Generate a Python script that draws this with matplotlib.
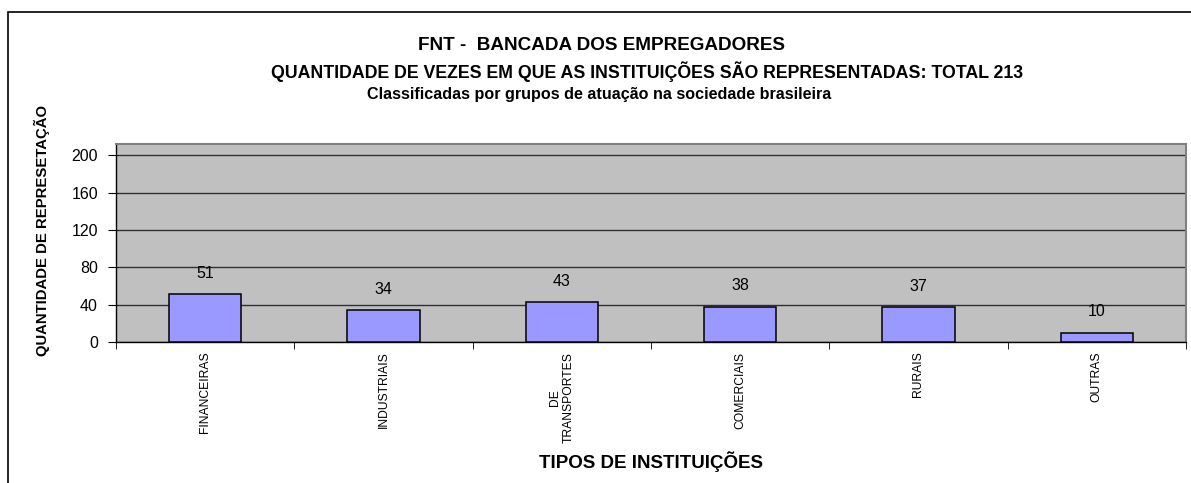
import matplotlib.pyplot as plt
from matplotlib.patches import Rectangle

# data
categorias = ['FINANCEIRAS', 'INDUSTRIAIS', 'DE\nTRANSPORTES', 'COMERCIAIS', 'RURAIS', 'OUTRAS']
quantidade = [51, 34, 43, 38, 37, 10]
y_ticks = [0, 40, 80, 120, 160, 200]

W, H = 1191, 483
fig = plt.figure(figsize=(W / 100, H / 100), dpi=100)
fig.patch.set_facecolor('white')
fonte = 'Liberation Sans'

# outer frame of the chart (cut off on the right and bottom)
fig.patches.append(Rectangle((8 / W, -0.1), 1.2, (H - 12) / H + 0.1, transform=fig.transFigure,
                             fill=False, edgecolor='black', linewidth=1.2))

# plot area
ax = fig.add_axes([116 / W, (H - 342) / H, (1186 - 116) / W, (342 - 144) / H])
ax.set_facecolor('#C0C0C0')

x = list(range(len(categorias)))
ax.bar(x, quantidade, width=0.405, color='#9999FF', edgecolor='black', linewidth=1.1, zorder=3)

for xi, v in zip(x, quantidade):
    ax.annotate(str(v), (xi, v), xytext=(0, 15), textcoords='offset points',
                ha='center', va='center', fontsize=11.5, family=fonte)

ax.set_xlim(-0.5, len(categorias) - 0.5)
ax.set_ylim(0, 212)
ax.set_yticks(y_ticks)
ax.set_yticklabels([str(t) for t in y_ticks], fontsize=11.5, family=fonte)
ax.yaxis.grid(True, color='#303030', linewidth=1)
ax.set_axisbelow(True)

ax.set_xticks(x)
ax.set_xticklabels(categorias, rotation=90, fontsize=8.7, family=fonte,
                   va='top', ha='center', multialignment='center', linespacing=1.1)
ax.tick_params(axis='x', length=0, pad=7)
ax.set_xticks([i - 0.5 for i in range(len(categorias) + 1)], minor=True)
ax.tick_params(axis='x', which='minor', length=5, direction='out', color='black')
ax.tick_params(axis='y', length=5.5, direction='out', color='black', pad=7.5)

for s in ['top', 'right']:
    ax.spines[s].set_color('#808080')
    ax.spines[s].set_linewidth(1.5)
for s in ['left', 'bottom']:
    ax.spines[s].set_color('black')
    ax.spines[s].set_linewidth(1)

# titles
fig.text(602 / W, 1 - 45 / H, 'FNT -  BANCADA DOS EMPREGADORES', ha='center', va='center',
         fontsize=13.6, fontweight='bold', family=fonte)
fig.text(647 / W, 1 - 72 / H, 'QUANTIDADE DE VEZES EM QUE AS INSTITUIÇÕES SÃO REPRESENTADAS: TOTAL 213',
         ha='center', va='center', fontsize=12.8, fontweight='bold', family=fonte)
fig.text(599 / W, 1 - 95 / H, 'Classificadas por grupos de atuação na sociedade brasileira',
         ha='center', va='center', fontsize=11.6, fontweight='bold', family=fonte)

# axis titles
fig.text(42 / W, 1 - 231 / H, 'QUANTIDADE DE REPRESETAÇÃO', rotation=90, ha='center', va='center',
         fontsize=10.7, fontweight='bold', family=fonte)
fig.text(651 / W, 1 - 462 / H, 'TIPOS DE INSTITUIÇÕES', ha='center', va='center',
         fontsize=13.5, fontweight='bold', family=fonte)

fig.savefig('out.png', dpi=100)
